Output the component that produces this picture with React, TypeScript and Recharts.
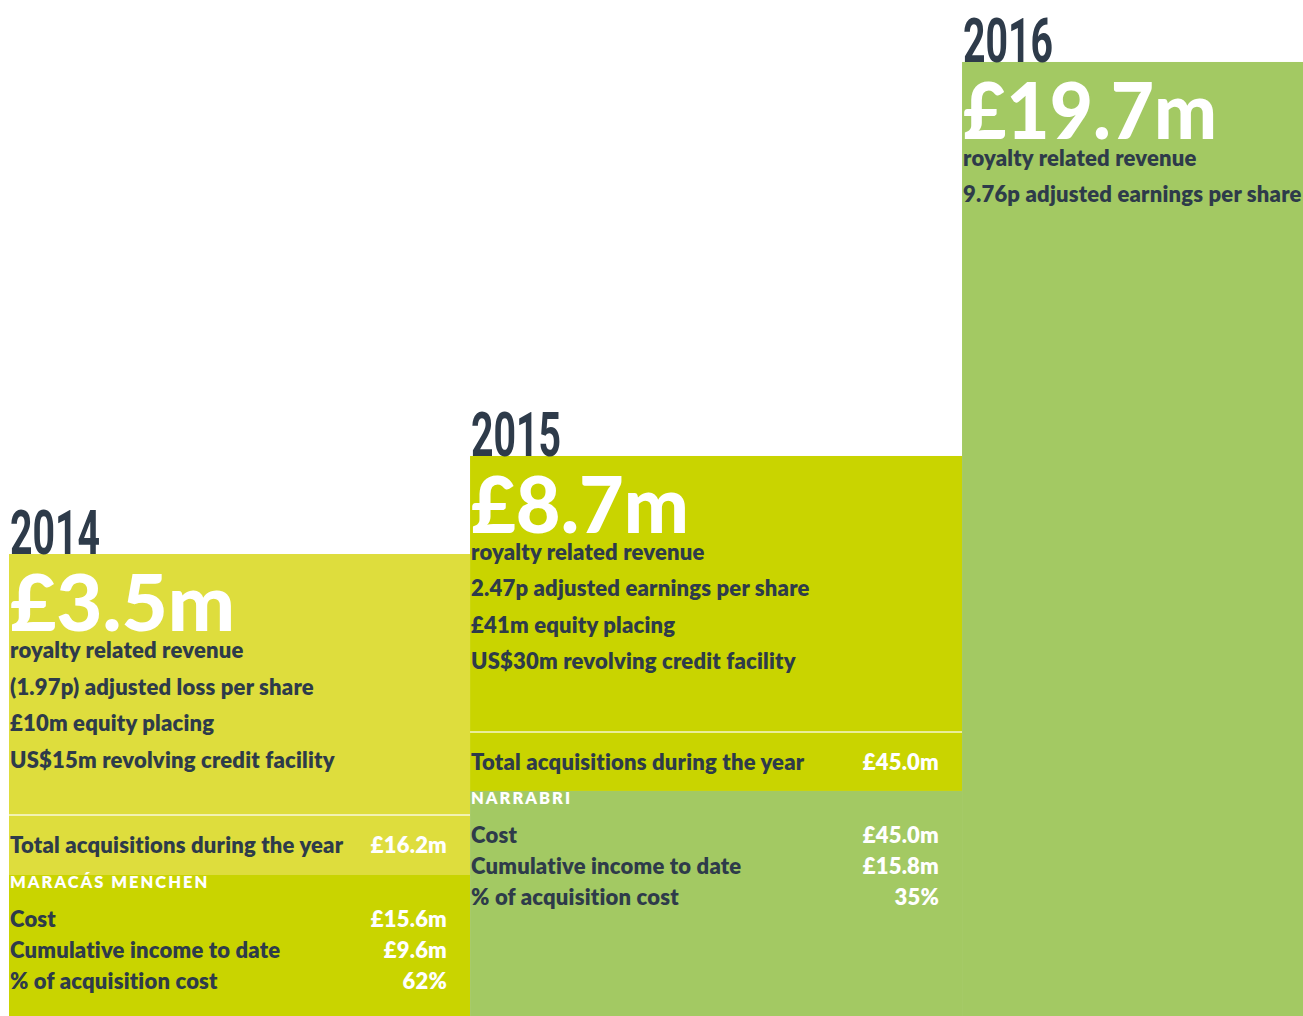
import React from "react";
import { ComposedChart, XAxis, YAxis, ReferenceArea, Line } from "recharts";

const years = ["2014", "2015", "2016"];
const revenue = ["£3.5m", "£8.7m", "£19.7m"];
const highlights = [
  [
    "royalty related revenue",
    "(1.97p) adjusted loss per share",
    "£10m equity placing",
    "US$15m revolving credit facility",
  ],
  [
    "royalty related revenue",
    "2.47p adjusted earnings per share",
    "£41m equity placing",
    "US$30m revolving credit facility",
  ],
  ["royalty related revenue", "9.76p adjusted earnings per share"],
];
const totalAcquisitions = ["£16.2m", "£45.0m", null];
const assetNames = ["MARACÁS MENCHEN", "NARRABRI", null];
const assetRowLabels = ["Cost", "Cumulative income to date", "% of acquisition cost"];
const assetRowValues = [
  ["£15.6m", "£9.6m", "62%"],
  ["£45.0m", "£15.8m", "35%"],
  null,
];

// step levels (% of chart height / width)
const columnShare = [35.63, 38.02, 26.35];
const stepLevel = [45.47, 55.12, 93.9];
const dividerLevel = [19.78, 27.95, null];
const lowerLevel = [13.88, 22.15, null];

const colors = ["#dedd3d", "#c9d400", "#a3c963"];
const dark = "#2e3b4a";
const bodyFont = "Lato, sans-serif";
const revenueTextWidth = [225, 218, 254];

const colStart = columnShare.map((_, i) =>
  columnShare.slice(0, i).reduce((a, b) => a + b, 0)
);

const bodyText = {
  fontFamily: bodyFont,
  fontWeight: 800,
  fontSize: 22,
  letterSpacing: 0.2,
  fill: dark,
};

const headerShape = (i: number) => (p: any) => {
  const { x, y, width, height } = p;
  return (
    <g>
      <rect x={x} y={y} width={width} height={height} fill={colors[i]} />
      <text
        x={x + 1}
        y={y}
        fontFamily="Roboto, sans-serif"
        fontWeight={700}
        fontSize={62}
        textLength={90}
        lengthAdjust="spacingAndGlyphs"
        fill={dark}
      >
        {years[i]}
      </text>
      <text
        x={x + 1}
        y={y + 77}
        fontFamily={bodyFont}
        fontWeight={900}
        fontSize={78}
        textLength={revenueTextWidth[i]}
        lengthAdjust="spacingAndGlyphs"
        fill="#fff"
      >
        {revenue[i]}
      </text>
      {highlights[i].map((t, k) => (
        <text key={k} x={x + 1} y={y + 104 + k * 36.5} {...bodyText}>
          {t}
        </text>
      ))}
    </g>
  );
};

const totalShape = (i: number) => (p: any) => {
  const { x, y, width, height } = p;
  return (
    <g>
      <rect x={x} y={y} width={width} height={height} fill={colors[i]} />
      <line x1={x} x2={x + width} y1={y} y2={y} stroke="#fff" strokeWidth={1.5} opacity={0.8} />
      <text x={x + 1} y={y + 38} {...bodyText}>
        Total acquisitions during the year
      </text>
      <text x={x + width - 23} y={y + 38} textAnchor="end" {...bodyText} fill="#fff">
        {totalAcquisitions[i]}
      </text>
    </g>
  );
};

const assetShape = (i: number) => (p: any) => {
  const { x, y, width, height } = p;
  const vals = assetRowValues[i] || [];
  return (
    <g>
      <rect x={x} y={y} width={width} height={height} fill={colors[i + 1]} />
      <text
        x={x + 1}
        y={y + 13}
        fontFamily={bodyFont}
        fontWeight={800}
        fontSize={16.5}
        letterSpacing={2}
        fill="#fff"
      >
        {assetNames[i]}
      </text>
      {assetRowLabels.map((t, k) => (
        <g key={k}>
          <text x={x + 1} y={y + 52 + k * 31} {...bodyText}>
            {t}
          </text>
          <text
            x={x + width - 23}
            y={y + 52 + k * 31}
            textAnchor="end"
            {...bodyText}
            fill="#fff"
          >
            {vals[k]}
          </text>
        </g>
      ))}
    </g>
  );
};

const chartData = years.map((y, i) => ({ x: colStart[i], level: stepLevel[i] }));

export default function App() {
  const areas: React.ReactNode[] = [];
  years.forEach((yr, i) => {
    const x1 = colStart[i];
    const x2 = colStart[i] + columnShare[i];
    areas.push(
      <ReferenceArea
        key={yr + "h"}
        x1={x1}
        x2={x2}
        y1={dividerLevel[i] ?? 0}
        y2={stepLevel[i]}
        ifOverflow="visible"
        shape={headerShape(i)}
      />
    );
    if (dividerLevel[i] != null) {
      areas.push(
        <ReferenceArea
          key={yr + "t"}
          x1={x1}
          x2={x2}
          y1={lowerLevel[i] as number}
          y2={dividerLevel[i] as number}
          ifOverflow="visible"
          shape={totalShape(i)}
        />,
        <ReferenceArea
          key={yr + "a"}
          x1={x1}
          x2={x2}
          y1={0}
          y2={lowerLevel[i] as number}
          ifOverflow="visible"
          shape={assetShape(i)}
        />
      );
    }
  });
  return (
    <div style={{ position: "absolute", left: 0, top: 0 }}>
      <ComposedChart
        width={1303}
        height={1016}
        data={chartData}
        margin={{ top: 0, right: 0, bottom: 0, left: 9 }}
      >
        <XAxis type="number" dataKey="x" domain={[0, 100]} hide />
        <YAxis type="number" domain={[0, 100]} hide />
        <Line
          dataKey="level"
          stroke="none"
          dot={false}
          activeDot={false}
          isAnimationActive={false}
        />
        {areas}
      </ComposedChart>
    </div>
  );
}
